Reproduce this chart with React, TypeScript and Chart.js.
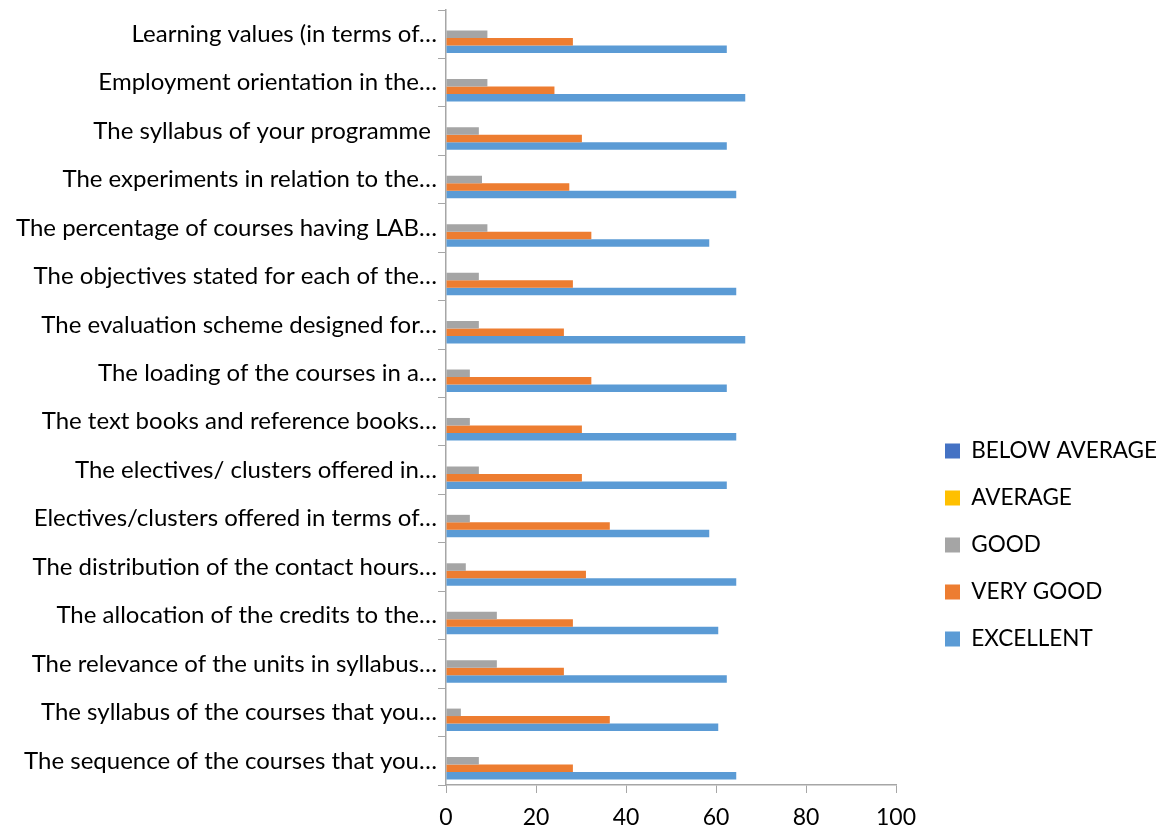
import React, { useEffect, useRef } from 'react';
import { Chart, registerables } from 'chart.js';

Chart.register(...registerables);

// Categories, top to bottom as shown
const categories = [
  'Learning values (in terms of…',
  'Employment orientation in the…',
  'The syllabus of your programme ',
  'The experiments in relation to the…',
  'The percentage of courses having LAB…',
  'The objectives stated for each of the…',
  'The evaluation scheme designed for…',
  'The loading of the courses in a…',
  'The text books and reference books…',
  'The electives/ clusters offered in…',
  'Electives/clusters offered in terms of…',
  'The distribution of the contact hours…',
  'The allocation of the credits to the…',
  'The relevance of the units in syllabus…',
  'The syllabus of the courses that you…',
  'The sequence of the courses that you…',
];

const belowAverage = [0, 0, 0, 0, 0, 0, 0, 0, 0, 0, 0, 0, 0, 0, 0, 0];
const average = [0, 0, 0, 0, 0, 0, 0, 0, 0, 0, 0, 0, 0, 0, 0, 0];
const good = [9.2, 9.2, 7.3, 8.0, 9.2, 7.3, 7.3, 5.3, 5.3, 7.3, 5.3, 4.4, 11.3, 11.3, 3.3, 7.3];
const veryGood = [28.2, 24.1, 30.2, 27.4, 32.3, 28.2, 26.2, 32.3, 30.2, 30.2, 36.4, 31.1, 28.2, 26.2, 36.4, 28.2];
const excellent = [62.4, 66.5, 62.4, 64.5, 58.5, 64.5, 66.5, 62.4, 64.5, 62.4, 58.5, 64.5, 60.5, 62.4, 60.5, 64.5];

const seriesNames = ['BELOW AVERAGE', 'AVERAGE', 'GOOD', 'VERY GOOD', 'EXCELLENT'];
const seriesColors = ['#4472C4', '#FFC000', '#A5A5A5', '#ED7D31', '#5B9BD5'];
const seriesValues = [belowAverage, average, good, veryGood, excellent];

const xMin = 0;
const xMax = 100;
const xStep = 20;

const FONT_FAMILY = 'Lato';
const CAT_FONT_SIZE = 24;
const TICK_FONT_SIZE = 23;
const LEGEND_FONT_SIZE = 22.5;
const AXIS_COLOR = '#a6a6a6';
const TEXT_COLOR = '#000000';

export default function App() {
  const canvasRef = useRef<HTMLCanvasElement | null>(null);

  useEffect(() => {
    const canvas = canvasRef.current;
    if (!canvas) return;
    const ctx = canvas.getContext('2d');
    if (!ctx) return;

    const legendPadding = 24.5;
    const boxW = 15;
    ctx.font = `${LEGEND_FONT_SIZE}px ${FONT_FAMILY}`;
    const legendTextW = Math.max(...seriesNames.map((n) => ctx.measureText(n).width));
    const legendW = legendPadding + boxW + LEGEND_FONT_SIZE / 2 + legendTextW + 10;
    const canvasW = canvas.clientWidth || 1164;
    const plotRight = 896;
    const padRight = Math.max(0, canvasW - plotRight - legendW);

    const legendPlacement = {
      id: 'legendPlacement',
      afterLayout(chart: any) {
        const lg = chart.legend;
        if (!lg) return;
        const w = lg.width;
        const h = lg.height;
        lg.left = 945 - legendPadding;
        lg.right = lg.left + w;
        lg.top = 451 - LEGEND_FONT_SIZE / 2 - legendPadding;
        lg.bottom = lg.top + h;
      },
    };

    const chart = new Chart(canvas, {
      type: 'bar',
      data: {
        labels: categories,
        datasets: seriesNames.map((name, i) => ({
          label: name,
          data: seriesValues[i],
          backgroundColor: seriesColors[i],
          borderWidth: 0,
          categoryPercentage: 0.775,
          barPercentage: 1.0,
        })),
      },
      options: {
        indexAxis: 'y',
        animation: false,
        responsive: true,
        maintainAspectRatio: false,
        layout: {
          padding: { top: 10, left: 0, bottom: 0, right: padRight },
        },
        plugins: {
          tooltip: { enabled: false },
          title: { display: false },
          legend: {
            display: true,
            position: 'right',
            align: 'start',
            labels: {
              boxWidth: boxW,
              boxHeight: 15,
              padding: legendPadding,
              color: TEXT_COLOR,
              font: { family: FONT_FAMILY, size: LEGEND_FONT_SIZE },
            },
          },
        },
        scales: {
          x: {
            type: 'linear',
            min: xMin,
            max: xMax,
            ticks: {
              stepSize: xStep,
              color: TEXT_COLOR,
              font: { family: FONT_FAMILY, size: TICK_FONT_SIZE },
              padding: 11,
            },
            grid: {
              drawOnChartArea: false,
              drawTicks: true,
              tickLength: 8,
              color: AXIS_COLOR,
            },
            border: { display: true, color: AXIS_COLOR, width: 1.5 },
            afterFit(scale: any) {
              scale.height = 49;
            },
          },
          y: {
            type: 'category',
            ticks: {
              autoSkip: false,
              color: TEXT_COLOR,
              font: { family: FONT_FAMILY, size: CAT_FONT_SIZE },
              padding: 1,
            },
            grid: {
              offset: true,
              drawOnChartArea: false,
              drawTicks: true,
              tickLength: 8,
              color: AXIS_COLOR,
            },
            border: { display: true, color: AXIS_COLOR, width: 1.5 },
            afterFit(scale: any) {
              scale.width = 446;
              scale.paddingTop = 0;
              scale.paddingBottom = 0;
            },
          },
        },
      },
      plugins: [legendPlacement],
    });

    return () => {
      chart.destroy();
    };
  }, []);

  return (
    <div
      style={{
        position: 'absolute',
        left: 0,
        top: 0,
        width: 1164,
        height: 834,
        background: '#ffffff',
      }}
    >
      <canvas ref={canvasRef} style={{ width: '100%', height: '100%' }} />
    </div>
  );
}
